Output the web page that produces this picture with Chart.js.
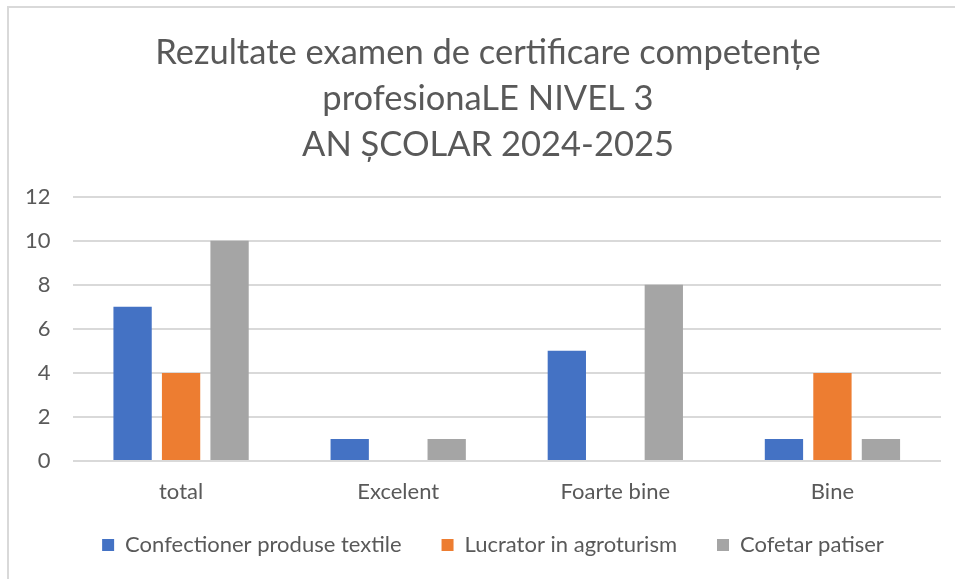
<!DOCTYPE html>
<html>
<head>
<meta charset="utf-8">
<script src="https://cdn.jsdelivr.net/npm/chart.js@4"></script>
<style>
  html, body { margin: 0; padding: 0; background: #fff; overflow: hidden; }
  #wrap { position: absolute; left: 0; top: 0; width: 955px; height: 579px; }
  #frame { position: absolute; left: 7px; top: 6px; width: 1000px; height: 1000px;
           border: 2px solid #d9d9d9; pointer-events: none; }
</style>
</head>
<body>
<div id="wrap">
  <canvas id="myChart" width="955" height="579"></canvas>
  <div id="frame"></div>
</div>
<script>
const categories = ['total', 'Excelent', 'Foarte bine', 'Bine'];
const confectioner = [7, 1, 5, 1];
const lucrator = [4, 0, 0, 4];
const cofetar = [10, 1, 8, 1];
const seriesNames = ['Confectioner produse textile', 'Lucrator in agroturism', 'Cofetar patiser'];
const yTicks = [0, 2, 4, 6, 8, 10, 12];
const titleLines = ['Rezultate examen de certificare competențe', 'profesionaLE NIVEL 3', 'AN ȘCOLAR 2024-2025'];

const textColor = '#595959';
const fontFamily = 'Lato, "Liberation Sans", sans-serif';

const ctx = document.getElementById('myChart');

// nudge title and legend a bit right, like the original
const shiftBoxes = {
    id: 'shiftBoxes',
    afterLayout(chart) {
        if (chart.titleBlock) chart.titleBlock.left += 32;
        if (chart.legend) chart.legend.left += 42;
    }
};

const myChart = new Chart(ctx, {
    type: 'bar',
    data: {
        labels: categories,
        datasets: [
            { label: seriesNames[0], data: confectioner, backgroundColor: '#4472C4' },
            { label: seriesNames[1], data: lucrator, backgroundColor: '#ED7D31' },
            { label: seriesNames[2], data: cofetar, backgroundColor: '#A5A5A5' }
        ]
    },
    plugins: [shiftBoxes],
    options: {
        responsive: false,
        animation: false,
        datasets: {
            bar: { categoryPercentage: 0.67, barPercentage: 0.79 }
        },
        layout: { padding: { left: 3, right: 14, top: 14, bottom: 13 } },
        plugins: {
            title: {
                display: true,
                text: titleLines,
                color: textColor,
                font: { family: fontFamily, size: 34.5, weight: 'normal', lineHeight: 1.33 },
                padding: { top: 16, bottom: 29 }
            },
            legend: {
                position: 'bottom',
                // empty title with negative padding pulls the items up
                title: { display: true, text: '', font: { size: 0 }, padding: { top: -29, bottom: 0 } },
                labels: {
                    color: textColor,
                    boxWidth: 12,
                    boxHeight: 12,
                    padding: 40,
                    font: { family: fontFamily, size: 22 }
                }
            },
            tooltip: { enabled: false }
        },
        scales: {
            x: {
                grid: { display: false, drawTicks: false },
                border: { display: false },
                ticks: { color: textColor, padding: 20, font: { family: fontFamily, size: 22, lineHeight: 1 } }
            },
            y: {
                beginAtZero: true,
                min: 0,
                max: 12,
                afterBuildTicks: axis => { axis.ticks = yTicks.map(v => ({ value: v })); },
                grid: { color: '#d9d9d9', lineWidth: 2, drawTicks: false },
                border: { display: false },
                ticks: { color: textColor, padding: 22, font: { family: fontFamily, size: 22 } }
            }
        }
    }
});
</script>
</body>
</html>
